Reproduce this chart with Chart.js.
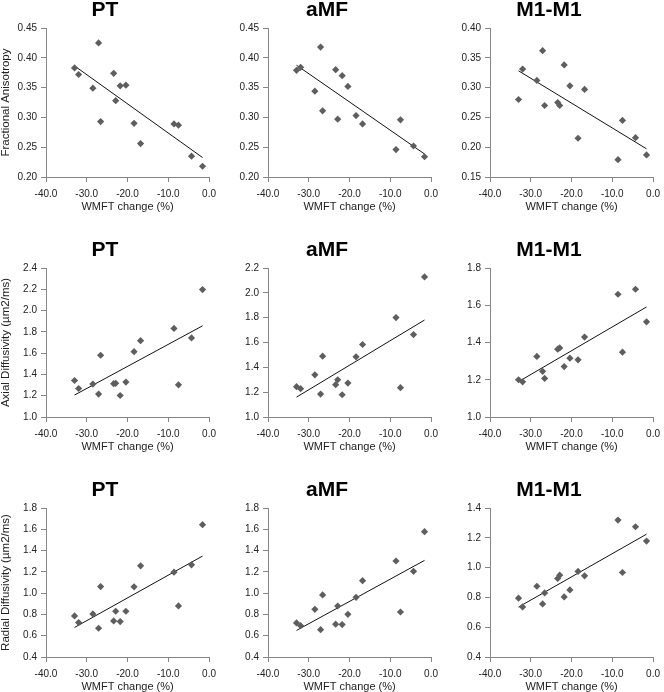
<!DOCTYPE html>
<html>
<head>
<meta charset="utf-8">
<script src="https://cdn.jsdelivr.net/npm/chart.js@4.4.0/dist/chart.umd.min.js"></script>
<style>
  body { margin: 0; background: #fff; width: 664px; height: 692px; overflow: hidden; position: relative; }
  canvas { position: absolute; }
</style>
</head>
<body>
<script>
// WMFT change (%) - same subjects in every panel
const wmftChange = [-33.0, -32.0, -28.5, -27.1, -26.6, -23.4, -22.9, -21.8, -20.4, -18.4, -16.8, -8.6, -7.5, -4.3, -1.6];

// Fractional Anisotropy
const faPT  = [0.383, 0.372, 0.349, 0.425, 0.293, 0.374, 0.328, 0.353, 0.354, 0.290, 0.256, 0.289, 0.287, 0.235, 0.218];
const faAMF = [0.379, 0.384, 0.344, 0.418, 0.311, 0.380, 0.297, 0.370, 0.352, 0.303, 0.289, 0.246, 0.296, 0.252, 0.234];
const faM1  = [0.280, 0.331, 0.312, 0.362, 0.270, 0.275, 0.270, 0.338, 0.303, 0.215, 0.297, 0.179, 0.245, 0.216, 0.187];

// Axial Diffusivity
const adPT  = [1.343, 1.268, 1.309, 1.215, 1.580, 1.313, 1.316, 1.202, 1.328, 1.614, 1.717, 1.832, 1.302, 1.743, 2.197];
const adAMF = [1.244, 1.228, 1.340, 1.185, 1.490, 1.260, 1.300, 1.179, 1.273, 1.485, 1.584, 1.801, 1.236, 1.664, 2.128];
const adM1  = [1.200, 1.189, 1.325, 1.245, 1.207, 1.364, 1.371, 1.271, 1.316, 1.307, 1.429, 1.659, 1.348, 1.686, 1.511];

// Radial Diffusivity
const rdPT  = [0.786, 0.723, 0.805, 0.670, 1.062, 0.739, 0.830, 0.733, 0.830, 1.059, 1.257, 1.197, 0.880, 1.266, 1.643];
const rdAMF = [0.720, 0.694, 0.848, 0.657, 0.983, 0.708, 0.879, 0.705, 0.801, 0.961, 1.117, 1.302, 0.823, 1.205, 1.578];
const rdM1  = [0.795, 0.736, 0.875, 0.756, 0.830, 0.927, 0.949, 0.803, 0.850, 0.974, 0.945, 1.319, 0.967, 1.274, 1.178];

const panelTitles = ['PT', 'aMF', 'M1-M1'];
const rowLabels = ['Fractional Anisotropy', 'Axial Diffusivity (µm2/ms)', 'Radial Diffusivity (µm2/ms)'];
const xTitle = 'WMFT change (%)';
const xMin = -40, xMax = 0, xStep = 10;
const yMins = [[0.20, 0.20, 0.15], [1.0, 1.0, 1.0], [0.4, 0.4, 0.4]];
const yMaxs = [[0.45, 0.45, 0.40], [2.4, 2.2, 1.8], [1.8, 1.8, 1.4]];
const ySteps = [0.05, 0.2, 0.2];
const yDecimals = [2, 1, 1];

const seriesGrid = [
  [faPT, faAMF, faM1],
  [adPT, adAMF, adM1],
  [rdPT, rdAMF, rdM1]
];

const FONT = '"Liberation Sans", Arial, sans-serif';
const AXIS_GREY = '#868686';

// linear trendline (least squares) over the data range, like Excel
function trendline(xs, ys) {
  const n = xs.length;
  let sx = 0, sy = 0, sxx = 0, sxy = 0;
  for (let i = 0; i < n; i++) { sx += xs[i]; sy += ys[i]; sxx += xs[i] * xs[i]; sxy += xs[i] * ys[i]; }
  const slope = (n * sxy - sx * sy) / (n * sxx - sx * sx);
  const icpt = (sy - slope * sx) / n;
  const lo = Math.min(...xs), hi = Math.max(...xs);
  return [{ x: lo, y: icpt + slope * lo }, { x: hi, y: icpt + slope * hi }];
}

function makePanel(row, col) {
  const cv = document.createElement('canvas');
  cv.width = 222; cv.height = 214;
  cv.style.left = (col * 222) + 'px';
  cv.style.top = (row * 240) + 'px';
  document.body.appendChild(cv);

  const ys = seriesGrid[row][col];
  const pts = wmftChange.map((x, i) => ({ x: x, y: ys[i] }));
  const dec = yDecimals[row];

  new Chart(cv.getContext('2d'), {
    type: 'scatter',
    data: {
      datasets: [
        {
          data: pts,
          pointStyle: 'rectRot',
          pointRadius: 3.6,
          pointBackgroundColor: '#5e5e5e',
          pointBorderColor: '#5e5e5e',
          pointBorderWidth: 0
        },
        {
          type: 'line',
          data: trendline(wmftChange, ys),
          borderColor: '#111',
          borderWidth: 1,
          pointRadius: 0,
          fill: false
        }
      ]
    },
    options: {
      responsive: false,
      animation: false,
      devicePixelRatio: 1,
      layout: { padding: { left: 0, right: 12, top: 0, bottom: 0 } },
      plugins: {
        legend: { display: false },
        tooltip: { enabled: false },
        title: {
          display: true,
          text: panelTitles[col],
          color: '#000',
          font: { family: FONT, size: 21, weight: 'bold', lineHeight: 1.0 },
          padding: { top: 0, bottom: 7 }
        }
      },
      scales: {
        x: {
          type: 'linear',
          min: xMin, max: xMax,
          border: { color: AXIS_GREY, width: 1 },
          grid: { drawOnChartArea: false, color: AXIS_GREY, tickLength: 5 },
          ticks: {
            stepSize: xStep, padding: 6, color: '#222',
            font: { family: FONT, size: 10 },
            callback: v => v.toFixed(1)
          },
          title: {
            display: true, text: xTitle, color: '#222',
            font: { family: FONT, size: 11 },
            padding: { top: 1.5, bottom: 0 }
          },
          afterFit: s => { s.height = 37; }
        },
        y: {
          min: yMins[row][col], max: yMaxs[row][col],
          border: { color: AXIS_GREY, width: 1 },
          grid: { drawOnChartArea: false, color: AXIS_GREY, tickLength: 5 },
          ticks: {
            stepSize: ySteps[row], padding: 4, color: '#222',
            font: { family: FONT, size: 10 },
            callback: v => v.toFixed(dec)
          },
          title: {
            display: col === 0, text: rowLabels[row], color: '#222',
            font: { family: FONT, size: 11.5, lineHeight: 1.0 },
            padding: 0
          },
          afterFit: s => { s.width = 46; }
        }
      }
    }
  });
}

for (let r = 0; r < 3; r++) {
  for (let c = 0; c < 3; c++) makePanel(r, c);
}
</script>
</body>
</html>
